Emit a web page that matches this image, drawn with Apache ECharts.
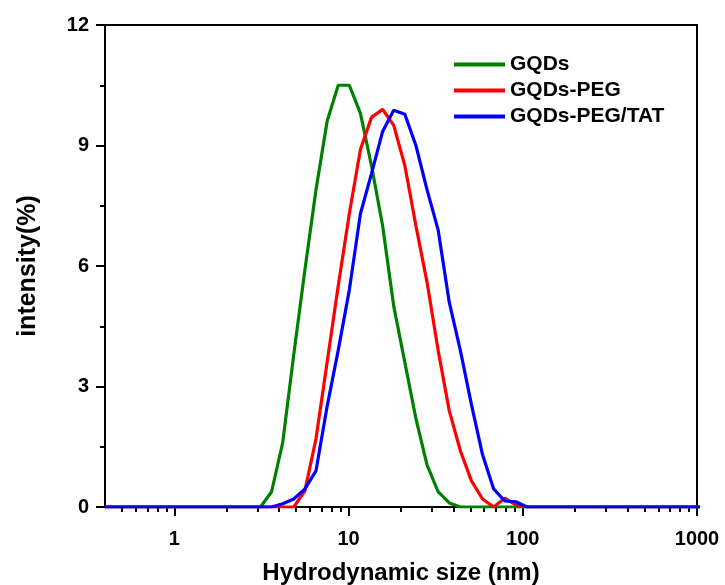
<!DOCTYPE html>
<html>
<head>
<meta charset="utf-8">
<script src="https://cdn.jsdelivr.net/npm/echarts@6/dist/echarts.min.js"></script>
<style>
  html, body { margin: 0; padding: 0; background: #fff; }
  #chart { width: 725px; height: 585px; }
</style>
</head>
<body>
<div id="chart"></div>
<script>
// size classes (nm)
const sizes = [0.4000, 0.4632, 0.5365, 0.6213, 0.7195, 0.8332, 0.9649, 1.117, 1.294, 1.499,
  1.736, 2.010, 2.328, 2.696, 3.122, 3.615, 4.187, 4.849, 5.615, 6.503,
  7.531, 8.721, 10.10, 11.70, 13.54, 15.69, 18.17, 21.04, 24.36, 28.21,
  32.67, 37.84, 43.82, 50.75, 58.77, 68.06, 78.82, 91.28, 105.7, 122.4,
  141.8, 164.2, 190.1, 220.2, 255.0, 295.3, 342.0, 396.1, 458.7, 531.2,
  615.1, 712.4, 825.0, 955.4, 1106];

const gqds = [0, 0, 0, 0, 0, 0, 0, 0, 0, 0,
  0, 0, 0, 0, 0, 0.38, 1.6, 3.8, 5.9, 7.9,
  9.6, 10.5, 10.5, 9.8, 8.5, 7.0, 5.0, 3.6, 2.2, 1.05,
  0.38, 0.1, 0, 0, 0, 0, 0, 0, 0, 0,
  0, 0, 0, 0, 0, 0, 0, 0, 0, 0,
  0, 0, 0, 0, 0];

const gqdsPeg = [0, 0, 0, 0, 0, 0, 0, 0, 0, 0,
  0, 0, 0, 0, 0, 0, 0, 0, 0.4, 1.7,
  3.6, 5.5, 7.3, 8.9, 9.7, 9.9, 9.5, 8.5, 7.0, 5.6,
  3.9, 2.4, 1.4, 0.65, 0.2, 0, 0.22, 0.05, 0, 0,
  0, 0, 0, 0, 0, 0, 0, 0, 0, 0,
  0, 0, 0, 0, 0];

const gqdsPegTat = [0, 0, 0, 0, 0, 0, 0, 0, 0, 0,
  0, 0, 0, 0, 0, 0, 0.08, 0.2, 0.45, 0.9,
  2.5, 3.9, 5.4, 7.3, 8.3, 9.35, 9.88, 9.78, 9.0, 7.9,
  6.9, 5.1, 3.9, 2.55, 1.3, 0.45, 0.15, 0.13, 0, 0,
  0, 0, 0, 0, 0, 0, 0, 0, 0, 0,
  0, 0, 0, 0, 0];

const seriesNames = ['GQDs', 'GQDs-PEG', 'GQDs-PEG/TAT'];
const colors = ['#008000', '#ff0000', '#0000ff'];
const majorTicks = [1, 10, 100, 1000];
const minorTicks = [0.5, 0.6, 0.7, 0.8, 0.9,
  2, 3, 4, 5, 6, 7, 8, 9,
  20, 30, 40, 50, 60, 70, 80, 90,
  200, 300, 400, 500, 600, 700, 800, 900];

const font = 'Arial, "Liberation Sans", sans-serif';

function pairs(vals) {
  return sizes.map((s, i) => [s, vals[i]]);
}

const chart = echarts.init(document.getElementById('chart'));
const option = {
  animation: false,
  textStyle: { fontFamily: font },
  grid: {
    left: 105,
    right: 28,
    top: 25,
    bottom: 78,
    outerBoundsMode: 'none',
    show: true,
    borderColor: '#000',
    borderWidth: 2
  },
  legend: {
    orient: 'vertical',
    left: 449,
    top: 49,
    itemWidth: 51,
    itemHeight: 4,
    itemGap: 5,
    icon: 'rect',
    textStyle: { fontFamily: font, fontWeight: 'bold', fontSize: 21, color: '#000' },
    data: seriesNames
  },
  xAxis: [
    {
      type: 'log',
      logBase: 10,
      min: 0.4,
      max: 1000,
      name: 'Hydrodynamic size (nm)',
      nameLocation: 'middle',
      nameGap: 54,
      nameTextStyle: { fontFamily: font, fontWeight: 'bold', fontSize: 24, color: '#000' },
      axisLine: { lineStyle: { color: '#000', width: 2 } },
      axisTick: { customValues: majorTicks, length: 9, lineStyle: { color: '#000', width: 2 } },
      axisLabel: {
        customValues: majorTicks,
        margin: 22,
        fontFamily: font,
        fontWeight: 'bold',
        fontSize: 20,
        color: '#000',
        formatter: (v) => String(v)
      },
      splitLine: { show: false }
    },
    {
      type: 'log',
      logBase: 10,
      min: 0.4,
      max: 1000,
      position: 'bottom',
      axisLine: { show: false },
      axisTick: { customValues: minorTicks, length: 5, lineStyle: { color: '#000', width: 2 } },
      axisLabel: { show: false },
      splitLine: { show: false }
    }
  ],
  yAxis: {
    type: 'value',
    min: 0,
    max: 12,
    interval: 3,
    name: 'intensity(%)',
    nameLocation: 'middle',
    nameGap: 64,
    nameTextStyle: { fontFamily: font, fontWeight: 'bold', fontSize: 25, color: '#000' },
    axisLine: { show: true, lineStyle: { color: '#000', width: 2 } },
    axisTick: { show: true, length: 9, lineStyle: { color: '#000', width: 2 } },
    minorTick: { show: true, splitNumber: 2, length: 5, lineStyle: { color: '#000', width: 2 } },
    axisLabel: { margin: 16, fontFamily: font, fontWeight: 'bold', fontSize: 20, color: '#000' },
    splitLine: { show: false }
  },
  series: [gqds, gqdsPeg, gqdsPegTat].map((vals, i) => ({
    name: seriesNames[i],
    type: 'line',
    data: pairs(vals),
    showSymbol: false,
    symbol: 'none',
    clip: true,
    color: colors[i],
    lineStyle: { color: colors[i], width: 3.2 }
  }))
};
chart.setOption(option);
</script>
</body>
</html>
